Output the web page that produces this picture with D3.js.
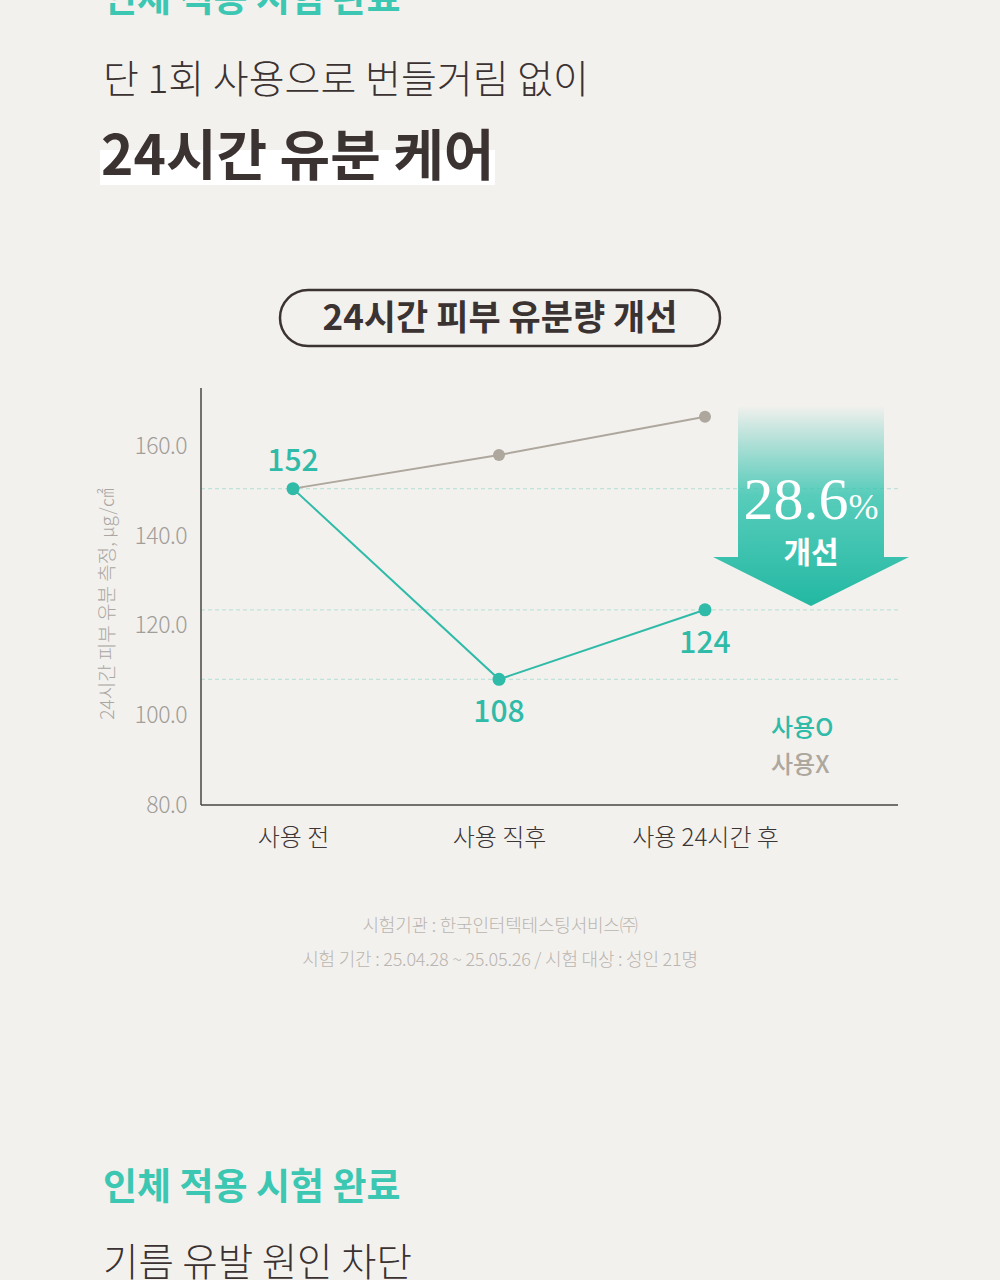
<!DOCTYPE html>
<html>
<head>
<meta charset="utf-8">
<script src="https://cdn.jsdelivr.net/npm/d3@7"></script>
<style>
  html, body { margin: 0; padding: 0; background: #f3f1ee; }
  svg { display: block; font-family: "Noto Sans CJK KR", "Noto Sans", sans-serif; }
</style>
</head>
<body>
<div class="sh"></div>
<script>
var categories = ["사용 전", "사용 직후", "사용 24시간 후"],
    usedValues = [150.5, 108, 123.5],
    usedLabels = ["152", "108", "124"],
    notUsedValues = [150.5, 158, 166.5],
    yTicks = [80, 100, 120, 140, 160],
    seriesNames = ["사용O", "사용X"];

var teal = "#2fbba8",
    grey = "#ada79d",
    dark = "#3b3232";

var W = 1000, H = 1280;
var svg = d3.select(".sh").append("svg")
    .attr("width", W)
    .attr("height", H);

var defs = svg.append("defs");
var grad = defs.append("linearGradient")
    .attr("id", "arrowGrad")
    .attr("x1", 0).attr("y1", 0).attr("x2", 0).attr("y2", 1);
grad.append("stop").attr("offset", "0%").attr("stop-color", teal).attr("stop-opacity", 0);
grad.append("stop").attr("offset", "45%").attr("stop-color", "#3cc6b2").attr("stop-opacity", 0.85);
grad.append("stop").attr("offset", "100%").attr("stop-color", "#22b8a2").attr("stop-opacity", 1);

// headings
svg.append("text")
    .attr("x", 103).attr("y", 12)
    .attr("font-size", 37).attr("font-weight", 700)
    .attr("fill", "#3cc7b3")
    .text("인체 적용 시험 완료");

svg.append("text")
    .attr("x", 103).attr("y", 93)
    .attr("font-size", 39).attr("font-weight", 300)
    .attr("fill", dark)
    .text("단 1회 사용으로 번들거림 없이");

svg.append("rect")
    .attr("x", 100).attr("y", 150)
    .attr("width", 395).attr("height", 35)
    .attr("fill", "#ffffff");

svg.append("text")
    .attr("x", 101).attr("y", 175)
    .attr("font-size", 55).attr("font-weight", 700)
    .attr("fill", dark)
    .text("24시간 유분 케어");

// pill title
svg.append("rect")
    .attr("x", 280).attr("y", 290)
    .attr("width", 440).attr("height", 56)
    .attr("rx", 28)
    .attr("fill", "none")
    .attr("stroke", dark)
    .attr("stroke-width", 2.5);

svg.append("text")
    .attr("x", 500).attr("y", 330)
    .attr("text-anchor", "middle")
    .attr("font-size", 35).attr("font-weight", 700)
    .attr("fill", dark)
    .text("24시간 피부 유분량 개선");

// chart
var x = d3.scalePoint()
    .domain(categories)
    .range([293, 705]);

var y = d3.scaleLinear()
    .domain([80, 160])
    .range([805, 446]);

var axisLeft = 201, axisRight = 898, axisTop = 388;

// dotted guides at the teal points
svg.append("g")
    .selectAll("line")
    .data(usedValues)
    .enter().append("line")
    .attr("x1", axisLeft).attr("x2", axisRight)
    .attr("y1", function (d) { return y(d); })
    .attr("y2", function (d) { return y(d); })
    .attr("stroke", "#bfe3da")
    .attr("stroke-width", 1.2)
    .attr("stroke-dasharray", "4,3");

// arrow
var ax = 811, shaftHalf = 73, headHalf = 98;
var arrowTop = 405, headY = 557, tipY = 606;
svg.append("path")
    .attr("d", "M" + (ax - shaftHalf) + "," + arrowTop +
        "L" + (ax + shaftHalf) + "," + arrowTop +
        "L" + (ax + shaftHalf) + "," + headY +
        "L" + (ax + headHalf) + "," + headY +
        "L" + ax + "," + tipY +
        "L" + (ax - headHalf) + "," + headY +
        "L" + (ax - shaftHalf) + "," + headY + "Z")
    .attr("fill", "url(#arrowGrad)");

var pct = svg.append("text")
    .attr("x", ax).attr("y", 519)
    .attr("text-anchor", "middle")
    .attr("fill", "#ffffff")
    .attr("font-family", "'Liberation Serif', 'DejaVu Serif', serif");
pct.append("tspan").attr("font-size", 60).text("28.6");
pct.append("tspan").attr("font-size", 36).text("%");

svg.append("text")
    .attr("x", ax).attr("y", 563)
    .attr("text-anchor", "middle")
    .attr("font-size", 30).attr("font-weight", 700)
    .attr("fill", "#ffffff")
    .text("개선");

// axes lines
svg.append("line")
    .attr("x1", axisLeft).attr("x2", axisLeft)
    .attr("y1", axisTop).attr("y2", 805)
    .attr("stroke", "#4a4444").attr("stroke-width", 1.5);
svg.append("line")
    .attr("x1", axisLeft).attr("x2", axisRight)
    .attr("y1", 805).attr("y2", 805)
    .attr("stroke", "#4a4444").attr("stroke-width", 1.5);

var gy = svg.append("g")
    .attr("transform", "translate(" + axisLeft + ",0)")
    .call(d3.axisLeft(y).tickValues(yTicks).tickSize(0).tickPadding(14)
        .tickFormat(function (d) { return d3.format(".1f")(d); }));
gy.select(".domain").remove();
gy.selectAll("text")
    .attr("font-size", 23)
    .attr("font-weight", 300)
    .attr("font-family", "'Noto Sans CJK KR', sans-serif")
    .attr("fill", "#a19d98")
    .attr("letter-spacing", -0.5);

var gx = svg.append("g")
    .attr("transform", "translate(0,805)")
    .call(d3.axisBottom(x).tickSize(0).tickPadding(24));
gx.select(".domain").remove();
gx.selectAll("text")
    .attr("font-size", 24)
    .attr("font-weight", 300)
    .attr("font-family", "'Noto Sans CJK KR', sans-serif")
    .attr("fill", "#3b3535");

svg.append("text")
    .attr("transform", "translate(114,604) rotate(-90)")
    .attr("text-anchor", "middle")
    .attr("font-size", 19)
    .attr("font-weight", 300)
    .attr("fill", "#aaa6a1")
    .text("24시간 피부 유분 측정, μg/㎠");

// lines
var line = d3.line()
    .x(function (d, i) { return x(categories[i]); })
    .y(function (d) { return y(d); });

svg.append("path")
    .datum(notUsedValues)
    .attr("d", line)
    .attr("fill", "none")
    .attr("stroke", grey)
    .attr("stroke-width", 2);

svg.append("path")
    .datum(usedValues)
    .attr("d", line)
    .attr("fill", "none")
    .attr("stroke", teal)
    .attr("stroke-width", 2);

svg.append("g").selectAll("circle")
    .data(notUsedValues)
    .enter().append("circle")
    .attr("cx", function (d, i) { return x(categories[i]); })
    .attr("cy", function (d) { return y(d); })
    .attr("r", 6)
    .attr("fill", grey);

svg.append("g").selectAll("circle")
    .data(usedValues)
    .enter().append("circle")
    .attr("cx", function (d, i) { return x(categories[i]); })
    .attr("cy", function (d) { return y(d); })
    .attr("r", 6.5)
    .attr("fill", teal);

// value labels: first one above, others below
svg.append("g").selectAll("text")
    .data(usedValues)
    .enter().append("text")
    .attr("x", function (d, i) { return x(categories[i]); })
    .attr("y", function (d, i) { return i === 0 ? y(d) - 18 : y(d) + 43; })
    .attr("text-anchor", "middle")
    .attr("font-size", 30).attr("font-weight", 500)
    .attr("fill", teal)
    .text(function (d, i) { return usedLabels[i]; });

// legend
svg.append("g").selectAll("text")
    .data(seriesNames)
    .enter().append("text")
    .attr("x", 771)
    .attr("y", function (d, i) { return 736 + i * 37; })
    .attr("font-size", 24).attr("font-weight", 500)
    .attr("fill", function (d, i) { return i === 0 ? teal : grey; })
    .text(function (d) { return d; });

// footnotes
svg.append("text")
    .attr("x", 500).attr("y", 932)
    .attr("text-anchor", "middle")
    .attr("font-size", 18).attr("font-weight", 300)
    .attr("letter-spacing", -0.2)
    .attr("fill", "#b9b5b0")
    .text("시험기관 : 한국인터텍테스팅서비스㈜");
svg.append("text")
    .attr("x", 500).attr("y", 966)
    .attr("text-anchor", "middle")
    .attr("font-size", 18).attr("font-weight", 300)
    .attr("letter-spacing", -0.2)
    .attr("fill", "#b9b5b0")
    .text("시험 기간 : 25.04.28 ~ 25.05.26 / 시험 대상 : 성인 21명");

// next section
svg.append("text")
    .attr("x", 103).attr("y", 1200)
    .attr("font-size", 37).attr("font-weight", 700)
    .attr("fill", "#3cc7b3")
    .text("인체 적용 시험 완료");

svg.append("text")
    .attr("x", 103).attr("y", 1276)
    .attr("font-size", 38.5).attr("font-weight", 300)
    .attr("fill", dark)
    .text("기름 유발 원인 차단");
</script>
</body>
</html>
